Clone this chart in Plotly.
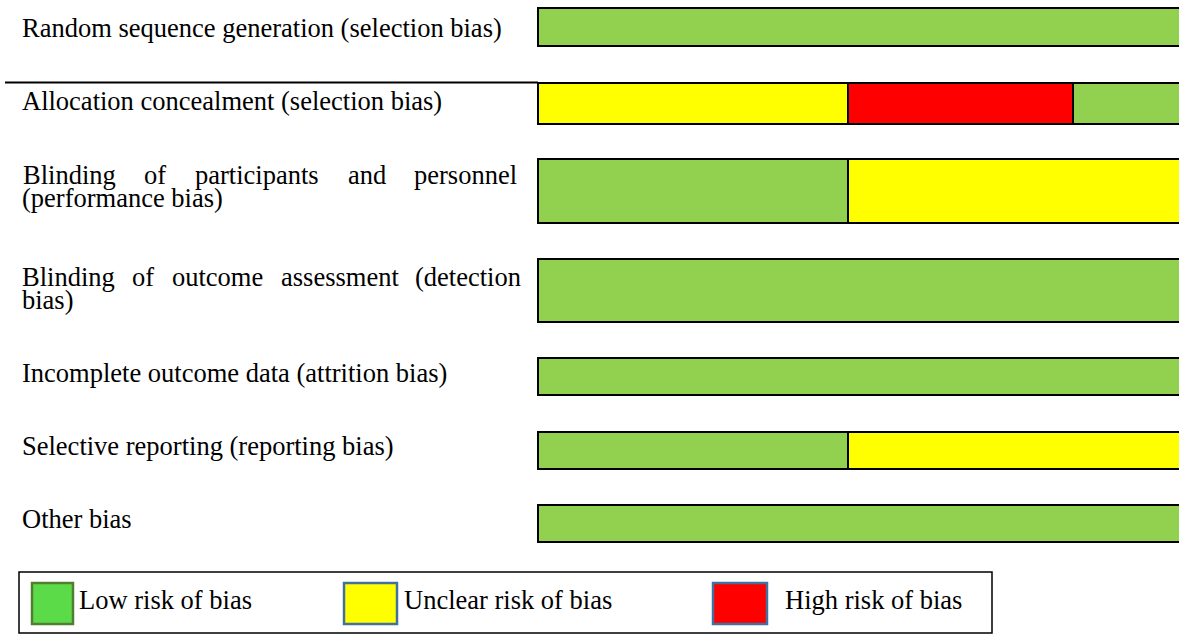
import plotly.graph_objects as go

# ---------------- data ----------------
domains = [
    "Random sequence generation (selection bias)",
    "Allocation concealment (selection bias)",
    "Blinding of participants and personnel (performance bias)",
    "Blinding of outcome assessment (detection bias)",
    "Incomplete outcome data (attrition bias)",
    "Selective reporting (reporting bias)",
    "Other bias",
]
risk_levels = ["Low risk of bias", "Unclear risk of bias", "High risk of bias"]
# segments of each bar, left to right
segment_risk = [
    ["Low risk of bias"],
    ["Unclear risk of bias", "High risk of bias", "Low risk of bias"],
    ["Low risk of bias", "Unclear risk of bias"],
    ["Low risk of bias"],
    ["Low risk of bias"],
    ["Low risk of bias", "Unclear risk of bias"],
    ["Low risk of bias"],
]
segment_pct = [
    [100],
    [48.2, 35.0, 16.8],
    [48.2, 51.8],
    [100],
    [100],
    [48.2, 51.8],
    [100],
]

# ---------------- layout / style ----------------
W, H = 1179, 635
BAR_LEFT_PX = 538
PX_PER_PCT = 6.43
X0 = -BAR_LEFT_PX / PX_PER_PCT
X1 = X0 + W / PX_PER_PCT

row_center = [27, 103, 191, 290.5, 376.5, 450.5, 523.5]
row_height = [38, 41, 64, 63, 37, 37, 37]

bar_colors = {"Low risk of bias": "#92d050",
              "Unclear risk of bias": "#ffff00",
              "High risk of bias": "#ff0000"}
FONT = "Liberation Serif, Times New Roman, serif"
FS = 26.5

def px(xp):
    return xp / W

fig = go.Figure()
for lvl in risk_levels:
    ys, xs, bases, ws = [], [], [], []
    for i, (risks, vals) in enumerate(zip(segment_risk, segment_pct)):
        cum = 0
        for r, v in zip(risks, vals):
            if r == lvl:
                ys.append(row_center[i]); xs.append(v); bases.append(cum)
                ws.append(row_height[i])
            cum += v
    fig.add_trace(go.Bar(
        y=ys, x=xs, base=bases, width=ws, orientation="h", name=lvl,
        marker=dict(color=bar_colors[lvl], line=dict(color="black", width=2)),
        showlegend=False, hoverinfo="skip"))

ann = []
def label(text, xp, y, anchor="left", size=FS):
    ann.append(dict(text=text, x=px(xp), y=y, xref="paper", yref="y",
                    xanchor=anchor, yanchor="middle", showarrow=False,
                    font=dict(family=FONT, size=size, color="black")))

label(domains[0], 20, 28)
label(domains[1], 20, 101)
# justified two-line labels
label("Blinding", 21, 175)
label("of", 155, 175, "center")
label("participants", 257, 175, "center")
label("and", 367, 175, "center")
label("personnel", 519, 175, "right")
label("(performance bias)", 20, 198)
label("Blinding", 20, 277)
label("of", 143, 277, "center")
label("outcome", 217, 277, "center")
label("assessment", 340, 277, "center")
label("(detection", 523, 277, "right")
label("bias)", 20, 300)
label(domains[4], 20, 373)
label(domains[5], 20, 446)
label(domains[6], 20, 519)

shapes = []
# separator line
shapes.append(dict(type="line", xref="paper", yref="y", x0=px(5), x1=px(BAR_LEFT_PX),
                   y0=82.5, y1=82.5, line=dict(color="black", width=2)))
# legend box
shapes.append(dict(type="rect", xref="paper", yref="y", x0=px(19), x1=px(992),
                   y0=572, y1=633, line=dict(color="black", width=1.5),
                   fillcolor="rgba(0,0,0,0)"))
legend_items = [
    ("Low risk of bias", 32, 73, "#5bdb48", "#4f7f2f", 77),
    ("Unclear risk of bias", 344, 397, "#ffff00", "#41719c", 402),
    ("High risk of bias", 713, 767, "#ff0000", "#41719c", 783),
]
for name, a, b, fill, edge, tx in legend_items:
    shapes.append(dict(type="rect", xref="paper", yref="y", x0=px(a), x1=px(b),
                       y0=583, y1=624, fillcolor=fill, line=dict(color=edge, width=2.5)))
    label(name, tx, 600)

fig.update_layout(
    width=W, height=H, margin=dict(l=0, r=0, t=0, b=0),
    paper_bgcolor="white", plot_bgcolor="white",
    barmode="overlay", bargap=0,
    xaxis=dict(range=[X0, X1], visible=False, fixedrange=True),
    yaxis=dict(range=[H, 0], visible=False, fixedrange=True),
    annotations=ann, shapes=shapes,
)
fig.write_html("out.html", config={"displayModeBar": False},
               post_script="document.body.style.margin='0';document.body.style.overflow='hidden';")
